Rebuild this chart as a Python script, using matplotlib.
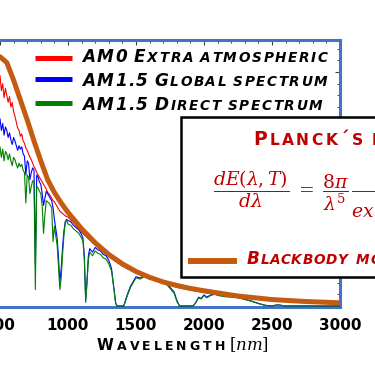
import matplotlib
matplotlib.use('Agg')
import matplotlib.pyplot as plt
from matplotlib.lines import Line2D
from matplotlib.patches import Rectangle
from matplotlib.ticker import MultipleLocator

plt.rcParams['font.family'] = ['DejaVu Sans']
plt.rcParams['mathtext.fontset'] = 'dejavuserif'

# ---------------- data ----------------
# wavelengths [nm] of the AM0 extraterrestrial spectrum
wl_am0 = [450, 460, 470, 480, 490, 500, 510, 520, 530, 540, 550, 560, 570, 580, 590,
          600, 610, 620, 630, 640, 650, 660, 670, 680, 690, 700, 710, 720, 730, 740,
          750, 760, 770, 780, 790, 800, 810, 820, 830, 840, 850, 860, 870, 880, 890,
          900, 910, 920, 930, 940, 950, 960, 970, 980, 990, 1000,
          1050, 1100, 1150, 1200, 1250, 1300, 1350, 1400, 1500, 1600, 1700, 1800,
          1900, 2000, 2200, 2400, 2600, 2800, 3000]
am0 = [2.00, 2.06, 1.95, 2.02, 1.90, 1.97, 1.84, 1.90, 1.78, 1.86, 1.80, 1.74, 1.79, 1.70, 1.74,
       1.66, 1.62, 1.57, 1.52, 1.50, 1.45, 1.47, 1.41, 1.39, 1.35, 1.33, 1.30, 1.27, 1.25, 1.22,
       1.19, 1.17, 1.14, 1.12, 1.10, 1.08, 1.06, 1.04, 1.02, 1.00, 0.97, 0.96, 0.94, 0.92, 0.90,
       0.89, 0.87, 0.85, 0.83, 0.81, 0.80, 0.79, 0.78, 0.77, 0.765, 0.76,
       0.70, 0.63, 0.575, 0.52, 0.47, 0.42, 0.38, 0.34, 0.28, 0.235, 0.195, 0.16,
       0.135, 0.115, 0.085, 0.06, 0.045, 0.035, 0.03]

# wavelengths [nm] of the terrestrial AM1.5 spectra
wl_am15 = [450, 460, 470, 480, 490, 500, 510, 520, 530, 540, 550, 560, 570, 580, 590,
           600, 610, 620, 630, 640, 650, 660, 670, 680, 690, 700, 710, 720, 730, 740,
           750, 760, 770, 780, 790, 800, 810, 820, 830, 840, 850, 860, 870, 880, 890,
           900, 910, 920, 930, 940, 950, 960, 970, 980, 990, 1000,
           1020, 1040, 1060, 1080, 1100, 1110, 1120, 1130, 1140, 1150, 1160, 1180, 1200, 1220,
           1240, 1260, 1280, 1300, 1320, 1340, 1350, 1360, 1380, 1400, 1410, 1420, 1440, 1460,
           1480, 1500, 1530, 1560, 1600, 1640, 1680, 1720, 1750, 1780, 1800, 1820, 1850, 1880,
           1900, 1920, 1940, 1960, 1980, 2000, 2020, 2050, 2080, 2100, 2150, 2200, 2250, 2300,
           2350, 2400, 2450, 2500, 2540, 2600, 2700, 2800, 2900, 3000]
am15_global = [1.50, 1.62, 1.55, 1.63, 1.52, 1.60, 1.50, 1.56, 1.46, 1.53, 1.50, 1.44, 1.48, 1.42, 1.38,
               1.44, 1.41, 1.37, 1.33, 1.37, 1.34, 1.36, 1.30, 1.28, 1.12, 1.24, 1.22, 1.08, 1.14, 1.18,
               1.16, 0.35, 1.12, 1.10, 1.06, 1.04, 0.96, 0.86, 0.92, 0.98, 0.96, 0.94, 0.92, 0.90, 0.84,
               0.74, 0.66, 0.58, 0.42, 0.20, 0.32, 0.50, 0.64, 0.72, 0.74, 0.73,
               0.72, 0.69, 0.67, 0.65, 0.61, 0.58, 0.43, 0.05, 0.22, 0.43, 0.49, 0.46, 0.50, 0.48,
               0.47, 0.44, 0.43, 0.39, 0.32, 0.13, 0.03, 0.0, 0.0, 0.0, 0.0, 0.04, 0.11, 0.17,
               0.21, 0.25, 0.24, 0.26, 0.24, 0.235, 0.21, 0.20, 0.16, 0.12, 0.05, 0.0, 0.0, 0.0,
               0.0, 0.0, 0.03, 0.075, 0.065, 0.095, 0.075, 0.095, 0.105, 0.095, 0.085, 0.08, 0.072, 0.058,
               0.042, 0.022, 0.006, 0.0, 0.01, 0.0, 0.0, 0.0, 0.0, 0.0]
am15_direct = [1.22, 1.34, 1.28, 1.36, 1.26, 1.36, 1.27, 1.34, 1.24, 1.32, 1.30, 1.25, 1.30, 1.24, 1.20,
               1.27, 1.25, 1.21, 1.18, 1.22, 1.19, 1.21, 1.16, 1.14, 0.88, 1.12, 1.10, 0.96, 1.02, 1.07,
               1.06, 0.14, 1.02, 1.01, 0.98, 0.96, 0.86, 0.62, 0.78, 0.90, 0.89, 0.88, 0.86, 0.84, 0.55,
               0.68, 0.60, 0.52, 0.34, 0.14, 0.24, 0.44, 0.60, 0.72, 0.73, 0.70,
               0.69, 0.66, 0.64, 0.62, 0.58, 0.55, 0.40, 0.03, 0.20, 0.40, 0.46, 0.43, 0.47, 0.45,
               0.44, 0.41, 0.40, 0.36, 0.30, 0.12, 0.02, 0.0, 0.0, 0.0, 0.0, 0.03, 0.10, 0.16,
               0.20, 0.24, 0.23, 0.25, 0.23, 0.225, 0.20, 0.19, 0.15, 0.11, 0.04, 0.0, 0.0, 0.0,
               0.0, 0.0, 0.03, 0.07, 0.06, 0.09, 0.07, 0.09, 0.10, 0.09, 0.08, 0.075, 0.07, 0.055,
               0.04, 0.02, 0.005, 0.0, 0.01, 0.0, 0.0, 0.0, 0.0, 0.0]

# blackbody model curve
wl_bb = [400, 450, 500, 550, 600, 650, 700, 750, 800, 850, 900, 950, 1000, 1100, 1200,
         1300, 1400, 1500, 1600, 1700, 1800, 1900, 2000, 2250, 2500, 2750, 3000]
bb = [1.98, 2.10, 2.13, 2.08, 1.93, 1.76, 1.59, 1.41, 1.24, 1.08, 0.97, 0.88, 0.80, 0.66, 0.54,
      0.44, 0.36, 0.295, 0.245, 0.205, 0.175, 0.15, 0.13, 0.085, 0.055, 0.038, 0.027]

x_ticks = [500, 1000, 1500, 2000, 2500, 3000]
x_tick_labels = ['500', '1000', '1500', '2000', '2500', '3000']

labels = ['AM0 Extra atmospheric', 'AM1.5 Global spectrum', 'AM1.5 Direct spectrum']
bb_label = 'Blackbody model'
box_title = 'Planck\u00b4s law'
x_label = 'Wavelength'
x_unit = r'$[nm]$'
formula = (r'$\dfrac{dE(\lambda,T)}{d\lambda}\;=\;\dfrac{8\pi}{\lambda^5}\,'
           r'\dfrac{hc}{exp\left(\dfrac{hc}{\lambda kT}\right)-1}$')

RED, BLUE, GREEN, ORANGE = '#FF0000', '#0000FF', '#008000', '#C55A11'
DARKRED = '#C00000'
SPINE = '#4472C4'

# ---------------- figure ----------------
W, H = 375, 366
fig = plt.figure(figsize=(W / 100, H / 100), dpi=100)
renderer = fig.canvas.get_renderer()


def fx(x):
    return x / W


def fy(y):
    return 1 - y / H


ax = fig.add_axes([fx(-34), fy(306.8), (340 + 34) / W, (306.8 - 40) / H])
ax.plot(wl_am0, am0, color=RED, lw=0.8, zorder=2)
ax.plot(wl_am15, am15_global, color=BLUE, lw=0.8, zorder=3)
ax.plot(wl_am15, am15_direct, color=GREEN, lw=0.8, zorder=4)
ax.plot(wl_bb, bb, color=ORANGE, lw=3.6, zorder=5, solid_capstyle='butt')

ax.set_xlim(250, 3000)
ax.set_ylim(-0.007, 2.273)
ax.set_xticks(x_ticks)
ax.set_xticklabels(x_tick_labels, fontsize=11, fontweight='bold')
ax.xaxis.set_minor_locator(MultipleLocator(100))
ax.yaxis.set_major_locator(MultipleLocator(0.5))
ax.yaxis.set_minor_locator(MultipleLocator(0.1))
ax.tick_params(axis='x', which='both', bottom=False, top=True, direction='in',
               labelbottom=True, labeltop=False, color='#404040', pad=8)
ax.tick_params(axis='y', which='both', left=False, right=True, direction='in',
               labelleft=False, labelright=False, color='#404040')
ax.tick_params(which='major', length=3.8, width=0.8)
ax.tick_params(which='minor', length=2.2, width=0.7)
for s in ax.spines.values():
    s.set_color(SPINE)
    s.set_linewidth(2.2)


def small_caps(x0, y0, text, big, small, color, fit=None, gap=8.0, **kw):
    items = []
    for ch in text:
        if ch == ' ':
            items.append((None, 0, 0))
        else:
            size = small if ch.islower() else big
            t = fig.text(0, 0, ch.upper(), fontsize=size, **kw)
            w = t.get_window_extent(renderer).width
            t.remove()
            items.append((ch.upper(), size, w))

    def layout(track):
        pos = []
        x = x0
        for ch, size, w in items:
            if ch is None:
                x += gap - track
                pos.append(None)
            else:
                pos.append(x)
                x += w + track
        return pos

    track = 1.5
    if fit is not None:
        n, target = fit

        def end(tr):
            p = layout(tr)
            return p[n - 1] + items[n - 1][2]
        e0, e1 = end(0.0), end(1.0)
        track = (target - e0) / (e1 - e0)
    for (ch, size, w), p in zip(items, layout(track)):
        if ch is not None:
            fig.text(fx(p), fy(y0), ch, fontsize=size, color=color,
                     ha='left', va='baseline', **kw)


# legend at the top of the plot
leg_y = [58, 79, 103]
leg_base = [62, 85.5, 109.5]
leg_end = [328, 327, 322]
for lab, col, ly, by, xe in zip(labels, [RED, BLUE, GREEN], leg_y, leg_base, leg_end):
    fig.add_artist(Line2D([fx(35), fx(72)], [fy(ly), fy(ly)], color=col, lw=3.6,
                          solid_capstyle='butt', transform=fig.transFigure))
    small_caps(82, by, lab, 12.2, 9.8, 'black', fit=(len(lab), xe), gap=7,
               fontweight='bold', fontstyle='oblique')

# Planck box
fig.add_artist(Rectangle((fx(181), fy(277)), fx(400) - fx(181), fy(117) - fy(277),
                         transform=fig.transFigure, facecolor='white', edgecolor='black',
                         lw=1.8, zorder=2))
small_caps(253, 145, box_title, 13.5, 11.2, DARKRED, fit=(8, 363), gap=9,
           fontweight='bold', zorder=3)
fig.text(fx(213), fy(197), formula, fontsize=13.5, color=DARKRED, ha='left', va='baseline',
         zorder=3)
fig.add_artist(Line2D([fx(188), fx(237)], [fy(261), fy(261)], color=ORANGE, lw=4.3,
                      solid_capstyle='butt', transform=fig.transFigure, zorder=3))
small_caps(247, 263.5, bb_label, 12.2, 9.8, DARKRED, fit=(9, 347), gap=9,
           fontweight='bold', fontstyle='oblique', zorder=3)

# x axis title
small_caps(97, 350, x_label, 11, 9, 'black', fit=(len(x_label), 225),
           fontweight='bold')
fig.text(fx(229), fy(350), x_unit, fontsize=12, color='black', ha='left', va='baseline')

fig.savefig('out.png', dpi=100)
